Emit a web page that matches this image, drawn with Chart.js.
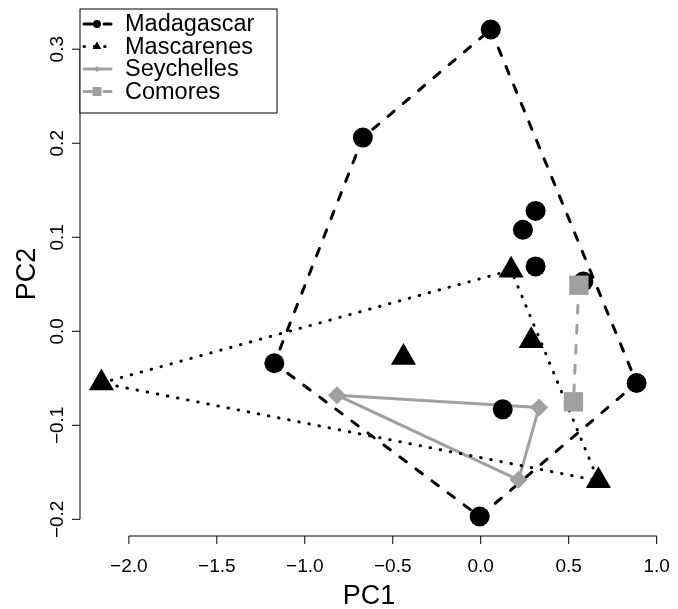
<!DOCTYPE html>
<html><head><meta charset="utf-8">
<script src="https://cdn.jsdelivr.net/npm/chart.js@4.4.1/dist/chart.umd.min.js"></script>
<style>html,body{margin:0;padding:0;background:#fff}canvas{display:block}</style>
</head><body>
<canvas id="c" width="678" height="609"></canvas>
<script>
/* PCA scores by island group, hulls drawn as polylines — R base-graphics look */

/* ─── DATA ─────────────────────────────────────────── */
const madX=[0.057,-0.670,0.312,0.240,0.312,0.583,-1.173,0.886,0.125,-0.006];
const madY=[0.321,0.206,0.128,0.108,0.069,0.053,-0.034,-0.055,-0.083,-0.197];
const madHull=[0,7,9,6,1,0];

const masX=[-2.156,0.173,0.287,-0.439,0.669];
const masY=[-0.055,0.065,-0.010,-0.028,-0.159];
const masHull=[0,1,4,0];

const seyX=[-0.817,0.332,0.215];
const seyY=[-0.068,-0.081,-0.158];
const seyHull=[0,1,2,0];

const comX=[0.558,0.527];
const comY=[0.049,-0.075];
const comHull=[0,1];

const xTicks=[-2.0,-1.5,-1.0,-0.5,0.0,0.5,1.0];
const xLabels=['−2.0','−1.5','−1.0','−0.5','0.0','0.5','1.0'];
const yTicks=[-0.2,-0.1,0.0,0.1,0.2,0.3];
const yLabels=['−0.2','−0.1','0.0','0.1','0.2','0.3'];
const groups=['Madagascar','Mascarenes','Seychelles','Comores'];

/* ─── STYLE ────────────────────────────────────────── */
const GREY='#a0a0a0';
const FONT='"Liberation Sans", Arial, Helvetica, sans-serif';
const STY={
  Madagascar:{col:'#000',lw:3,dash:[8,12],pt:'circle',r:10,lr:4},
  Mascarenes:{col:'#000',lw:3,dash:[0.5,9.8],pt:'triangle',r:14.5,lr:5},
  Seychelles:{col:GREY,lw:3,dash:[],pt:'rectRot',r:9,lr:3},
  Comores:{col:GREY,lw:3,dash:[8,12],pt:'rect',r:13.7,lr:4.5}
};
const SRC={Madagascar:[madX,madY,madHull],Mascarenes:[masX,masY,masHull],Seychelles:[seyX,seyY,seyHull],Comores:[comX,comY,comHull]};

// R-style axis limits: data range widened by 4% each side
const allX=[...madX,...masX,...seyX,...comX],allY=[...madY,...masY,...seyY,...comY];
const rng=a=>{const lo=Math.min(...a),hi=Math.max(...a),d=(hi-lo)*0.04;return[lo-d,hi+d];};
const [xMin,xMax]=rng(allX),[yMin,yMax]=rng(allY);

/* ─── DATASETS ─────────────────────────────────────── */
const pts=(xs,ys)=>xs.map((x,i)=>({x,y:ys[i]}));
const hull=(xs,ys,idx)=>idx.map(i=>({x:xs[i],y:ys[i]}));
const datasets=[];
// points: lower order draws on top (Comores over Madagascar, Madagascar over hull lines)
['Comores','Seychelles','Mascarenes','Madagascar'].forEach((g,i)=>{
  const s=STY[g],[xs,ys]=SRC[g];
  datasets.push({label:g,data:pts(xs,ys),showLine:false,pointStyle:s.pt,pointRadius:s.r,
    pointBackgroundColor:s.col,pointBorderWidth:0,order:i+1,clip:false});
});
groups.forEach((g,i)=>{
  const s=STY[g],[xs,ys,h]=SRC[g];
  datasets.push({label:g+' hull',data:hull(xs,ys,h),showLine:true,pointRadius:0,
    borderColor:s.col,borderWidth:s.lw,borderDash:s.dash,borderCapStyle:'round',
    borderJoinStyle:'round',fill:false,tension:0,order:10+i,clip:false});
});

/* ─── AXES (R style: line spans first..last tick) ──── */
const rAxes={id:'rAxes',afterDraw(chart){
  const {ctx,scales:{x,y},chartArea:a}=chart;
  ctx.save();
  ctx.strokeStyle='#000';ctx.lineWidth=1;ctx.fillStyle='#000';
  const yb=a.bottom,xl=a.left;
  ctx.beginPath();
  ctx.moveTo(x.getPixelForValue(xTicks[0]),yb);ctx.lineTo(x.getPixelForValue(xTicks[xTicks.length-1]),yb);
  xTicks.forEach(v=>{const p=x.getPixelForValue(v);ctx.moveTo(p,yb);ctx.lineTo(p,yb+8);});
  ctx.moveTo(xl,y.getPixelForValue(yTicks[0]));ctx.lineTo(xl,y.getPixelForValue(yTicks[yTicks.length-1]));
  yTicks.forEach(v=>{const p=y.getPixelForValue(v);ctx.moveTo(xl,p);ctx.lineTo(xl-8,p);});
  ctx.stroke();

  ctx.font='19px '+FONT;ctx.textAlign='center';ctx.textBaseline='alphabetic';
  xTicks.forEach((v,i)=>ctx.fillText(xLabels[i],x.getPixelForValue(v),yb+36));
  yTicks.forEach((v,i)=>{
    ctx.save();ctx.translate(xl-17.5,y.getPixelForValue(v));ctx.rotate(-Math.PI/2);
    ctx.fillText(yLabels[i],0,0);ctx.restore();
  });

  ctx.font='27px '+FONT;
  ctx.fillText('PC1',(a.left+a.right)/2,yb+68);
  ctx.save();ctx.translate(xl-45,(a.top+a.bottom)/2+1);ctx.rotate(-Math.PI/2);
  ctx.fillText('PC2',0,0);ctx.restore();
  ctx.restore();
}};

/* ─── LEGEND ───────────────────────────────────────── */
function drawMark(ctx,pt,r,x,y){
  ctx.beginPath();
  if(pt==='circle')ctx.arc(x,y,r,0,Math.PI*2);
  else if(pt==='triangle'){ctx.moveTo(x,y-r);ctx.lineTo(x+r*0.866,y+r/2);ctx.lineTo(x-r*0.866,y+r/2);}
  else if(pt==='rectRot'){ctx.moveTo(x-r,y);ctx.lineTo(x,y-r);ctx.lineTo(x+r,y);ctx.lineTo(x,y+r);}
  else ctx.rect(x-r,y-r,2*r,2*r);
  ctx.closePath();ctx.fill();
}
const rLegend={id:'rLegend',afterDraw(chart){
  const {ctx,chartArea:a}=chart;
  const L=a.left,T=9,W=197,H=104,rowY=[24,46.5,69,91.5];
  ctx.save();
  ctx.fillStyle='#fff';ctx.fillRect(L,T,W,H);
  ctx.strokeStyle='#000';ctx.lineWidth=1;ctx.strokeRect(L,T,W,H);
  ctx.font='23.5px '+FONT;ctx.textBaseline='middle';ctx.textAlign='left';
  groups.forEach((g,i)=>{
    const s=STY[g],yy=rowY[i];
    ctx.strokeStyle=s.col;ctx.lineWidth=s.lw;ctx.lineCap='round';ctx.setLineDash(s.dash);
    ctx.beginPath();ctx.moveTo(L+4,yy);ctx.lineTo(L+31,yy);ctx.stroke();
    ctx.setLineDash([]);ctx.fillStyle=s.col;
    drawMark(ctx,s.pt,s.lr,L+17,yy);
    ctx.fillStyle='#000';ctx.fillText(g,L+45,yy+1);
  });
  ctx.restore();
}};

/* ─── CHART ────────────────────────────────────────── */
new Chart(document.getElementById('c').getContext('2d'),{
  type:'scatter',
  data:{datasets},
  options:{
    responsive:false,animation:false,devicePixelRatio:1,
    layout:{autoPadding:false,padding:{left:80,top:10,right:20,bottom:73}},
    plugins:{legend:{display:false},tooltip:{enabled:false}},
    scales:{
      x:{type:'linear',min:xMin,max:xMax,display:false},
      y:{type:'linear',min:yMin,max:yMax,display:false}
    }
  },
  plugins:[rAxes,rLegend]
});
</script>
</body></html>
